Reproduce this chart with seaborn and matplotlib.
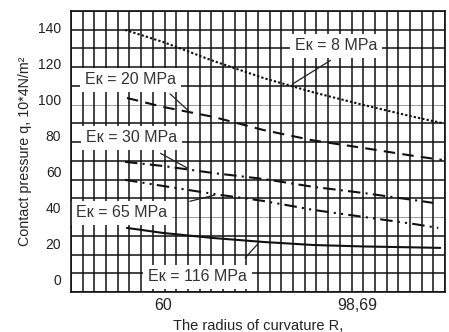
import matplotlib
matplotlib.use('Agg')
import matplotlib.pyplot as plt
import numpy as np
import pandas as pd
import seaborn as sns

# values
radius_8 = [52.4, 60, 70, 80, 90, 100, 110, 115.6]
q_8 = [138.9, 132.2, 121.7, 112.2, 104.2, 97.2, 90.6, 87.2]
radius_20 = [52.8, 60, 70, 80, 90, 100, 110, 115.6]
q_20 = [101.1, 96.1, 90.6, 83.3, 77.5, 73.3, 68.9, 66.7]
radius_30 = [52.4, 60, 70, 80, 90, 100, 110, 113.9]
q_30 = [65.6, 63.3, 59.4, 56.1, 51.7, 48.3, 44.4, 42.8]
radius_65 = [52.4, 60, 70, 80, 90, 100, 110, 114.9]
q_65 = [55.6, 52.2, 47.8, 43.9, 38.9, 35.0, 31.1, 28.9]
radius_116 = [52.8, 60, 70, 80, 90, 100, 110, 115.3]
q_116 = [28.9, 26.1, 23.3, 21.1, 19.4, 18.6, 18.1, 17.8]

y_ticks = [0, 20, 40, 60, 80, 100, 120, 140]
x_ticks = [60, 98.69]
x_tick_labels = ['60', '98,69']

sns.set_style('white')
plt.rcParams['font.family'] = ['Liberation Sans', 'DejaVu Sans']

series = {
    '8': (radius_8, q_8),
    '20': (radius_20, q_20),
    '30': (radius_30, q_30),
    '65': (radius_65, q_65),
    '116': (radius_116, q_116),
}
df = pd.concat([
    pd.DataFrame({'radius': r, 'q': q, 'modulus': name})
    for name, (r, q) in series.items()
], ignore_index=True)

dash_map = {
    '8': (1.1, 1.0),
    '20': (5.5, 3.5),
    '30': (6, 2.5, 1, 2.5),
    '65': (6, 2.5, 1, 2.5, 1, 2.5),
    '116': '',
}

fig = plt.figure(figsize=(4.49, 3.32), dpi=100)
ax = fig.add_axes([71 / 449, 40 / 332, 374 / 449, 281 / 332])

xlim = (41.64, 116.25)
ylim = (-6.7, 149.4)

# dense grid of the original paper
for i, y in enumerate(np.linspace(*ylim, 16)):
    gray = i in (4, 10)
    ax.axhline(y, color='#9a9a9a' if gray else '#111111',
               lw=0.7 if gray else 1.1, zorder=0.5)
for x in np.linspace(*xlim, 33):
    ax.axvline(x, color='#111111', lw=1.1, zorder=0.5)

sns.lineplot(data=df, x='radius', y='q', style='modulus', dashes=dash_map,
             style_order=list(dash_map), color='#111111', linewidth=1.5,
             legend=False, sort=False, estimator=None, ax=ax, zorder=2)

ax.set_xlim(*xlim)
ax.set_ylim(*ylim)

# curve labels with leader lines
labels = [
    ('Eк = 8 MPa', (86.3, 130.0), (93.9, 122.8), (85.3, 107.9)),
    ('Eк = 20 MPa', (44.4, 111.1), (61.0, 104.4), (65.4, 93.1)),
    ('Eк = 30 MPa', (44.6, 78.9), (59.0, 71.1), (65.4, 61.3)),
    ('Eк = 65 MPa', (42.6, 37.2), (64.8, 43.3), (70.8, 47.5)),
    ('Eк = 116 MPa', (57.0, 1.7), (76.0, 11.1), (79.3, 21.2)),
]
for text, pos, start, end in labels:
    ax.annotate('', xy=end, xytext=start,
                arrowprops=dict(arrowstyle='-', color='#222222', lw=0.9),
                zorder=3)
    ax.text(pos[0], pos[1], text, ha='left', va='center', fontsize=11.5,
            color='#333333', zorder=4,
            bbox=dict(boxstyle='square,pad=0.3', fc='white', ec='none'))

ax.set_yticks(y_ticks)
ax.set_xticks(x_ticks)
ax.set_xticklabels(x_tick_labels)
ax.tick_params(axis='y', length=0, pad=7, labelsize=10, labelcolor='#222222')
ax.tick_params(axis='x', length=0, pad=4, labelsize=11.5, labelcolor='#222222')

ax.set_ylabel('Contact pressure q, 10*4N/m²', fontsize=10.3, labelpad=4,
              color='#222222')
ax.set_xlabel('The radius of curvature R,', fontsize=10.5, labelpad=5,
              color='#222222')

for spine in ax.spines.values():
    spine.set_color('#111111')
    spine.set_linewidth(1.2)
    spine.set_zorder(5)

fig.savefig('out.png', dpi=100)
